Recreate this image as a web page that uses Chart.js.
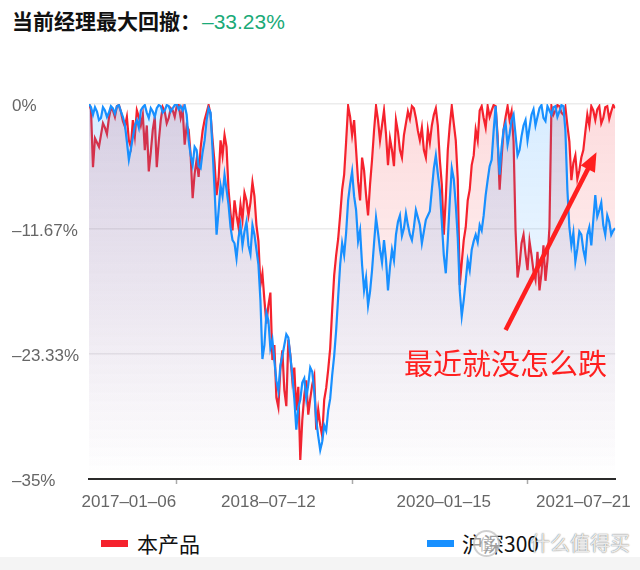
<!DOCTYPE html>
<html>
<head>
<meta charset="utf-8">
<script src="https://cdn.jsdelivr.net/npm/chart.js@4.4.1/dist/chart.umd.min.js"></script>
<style>
  html, body { margin: 0; padding: 0; background: #fff; }
  body { width: 640px; height: 570px; position: relative; overflow: hidden;
         font-family: "Liberation Sans", "Noto Sans CJK SC", sans-serif; }
  #title { position: absolute; left: 12px; top: 7px; font-size: 21px; line-height: 27px;
           font-family: "Noto Sans CJK SC", sans-serif; color: #111; white-space: nowrap; }
  #title b { font-weight: 700; }
  #title span { color: #1aaa78; font-family: "Liberation Sans", sans-serif; font-weight: 400; font-size: 21px; margin-left: 1px; }
  #wrap { position: absolute; left: 0; top: 0; width: 640px; height: 520px; }
  #note { position: absolute; left: 404px; top: 346px; font-size: 29px; line-height: 32px;
          color: #ff1f1f; font-family: "Noto Sans CJK SC", sans-serif; white-space: nowrap; }
  .leg { position: absolute; top: 531px; font-size: 21px; line-height: 24px; color: #111;
         font-family: "Noto Sans CJK SC", sans-serif; white-space: nowrap; }
  .leg i { position: absolute; top: 9px; width: 27px; height: 7px; }
  #wm { position: absolute; left: 530px; top: 530px; font-size: 20px; line-height: 26px;
        font-family: "Noto Sans CJK SC", sans-serif; color: rgba(255,255,255,0.85);
        text-shadow: 0 0 1px rgba(0,0,0,0.55), 0 0 2px rgba(0,0,0,0.2); white-space: nowrap; }
  #wmlogo { position: absolute; left: 473px; top: 530px; width: 23px; height: 23px; border-radius: 50%;
            border: 2px solid rgba(170,170,170,0.55); background: rgba(255,255,255,0.6);
            font-size: 15px; line-height: 23px; text-align: center; color: rgba(150,150,150,0.7);
            font-family: "Noto Sans CJK SC", sans-serif; }
  #band { position: absolute; left: 0; top: 557px; width: 640px; height: 13px; background: #f4f4f4; }
</style>
</head>
<body>
<div id="title"><b>当前经理最大回撤：</b><span>–33.23%</span></div>
<div id="wrap"><canvas id="c" width="640" height="520"></canvas></div>
<div id="note">最近就没怎么跌</div>
<div class="leg" style="left:101px;"><i style="left:0;background:#f5222d;"></i><span style="margin-left:36px;">本产品</span></div>
<div class="leg" style="left:427px;"><i style="left:0;background:#1890ff;"></i><span style="margin-left:35px;">沪深300</span></div>
<div id="wmlogo">值</div>
<div id="wm">什么值得买</div>
<div id="band"></div>
<script>
// ---- data (drawdown, %) ----
const seriesNames = ['本产品', '沪深300'];
const productDrawdown = [0, -0.5, -5.9, -3.2, -3.6, -4.0, -2.9, -1.8, -2.2, -2.8, -1.3, -0.4, -0.6, -1.2, -0.2, -0.1, -0.7, -1.6, -2.1, -1.2, -3.4, -4.0, -1.5, -3.0, -0.6, -1.2, -2.0, -1.0, -4.3, -2.0, -6.3, -4.5, -2.4, -1.2, -5.9, -3.5, -1.5, -0.3, -0.7, -1.8, -1.3, -0.4, -0.6, -1.2, -0.2, -0.1, -1.3, -0.5, -3.8, -2.0, -2.4, -4.8, -8.8, -6.5, -5.2, -6.8, -4.1, -2.5, -1.5, -0.8, -0.1, -1.0, -3.4, -5.5, -8.5, -7.0, -3.4, -4.8, -2.9, -4.0, -8.0, -10.2, -11.8, -9.0, -10.4, -11.5, -9.4, -10.8, -8.3, -9.0, -10.4, -9.2, -7.3, -8.6, -11.3, -12.8, -16.9, -15.8, -18.3, -20.5, -18.8, -17.6, -23.9, -22.5, -27.4, -28.3, -24.8, -23.0, -26.7, -28.2, -22.0, -23.4, -25.8, -24.6, -28.6, -26.4, -33.23, -29.5, -27.2, -25.8, -29.0, -27.5, -26.2, -25.4, -30.4, -28.5, -30.0, -31.0, -27.6, -26.5, -24.8, -22.8, -19.2, -16.0, -14.1, -12.6, -10.4, -8.0, -6.6, -3.5, -0.2, -1.2, -2.9, -1.5, -4.3, -7.2, -9.0, -5.0, -6.2, -8.5, -10.4, -7.5, -5.2, -2.5, -0.2, -1.5, -3.4, -2.0, -0.6, -2.8, -5.7, -3.2, -4.3, -5.8, -1.5, -2.6, -4.3, -5.0, -2.9, -1.8, -0.7, -1.4, -0.2, -0.4, -1.3, -2.5, -3.4, -2.2, -4.3, -5.0, -2.4, -3.6, -2.0, -1.0, -0.4, -2.0, -5.2, -7.5, -12.2, -8.8, -4.3, -2.0, -0.2, -1.8, -3.4, -7.0, -16.9, -14.8, -12.7, -11.5, -9.0, -8.0, -5.7, -4.8, -2.4, -3.4, -0.6, -0.2, -1.3, -2.2, -0.2, -1.2, -0.6, -0.1, -0.2, -3.0, -8.0, -5.0, -2.4, -1.2, -0.2, -1.5, -0.7, -3.5, -11.8, -16.2, -15.0, -13.0, -12.2, -14.0, -15.5, -12.8, -14.1, -15.6, -16.4, -13.8, -17.4, -15.8, -13.2, -16.5, -14.6, -11.5, -0.2, -1.0, -0.6, -0.1, -0.2, -0.8, -1.0, -0.3, -2.0, -3.5, -7.1, -5.5, -4.8, -7.0, -6.2, -5.0, -4.3, -2.6, -1.0, -2.0, -0.2, -0.6, -1.5, -0.5, -0.2, -1.8, -1.3, -0.3, -0.2, -1.4, -0.7, -0.1, -0.4];
const hs300Drawdown = [0, -0.3, -1.0, -0.3, -0.7, -1.5, -1.3, -0.3, -0.6, -1.2, -0.8, -0.2, -0.4, -0.9, -0.2, -0.1, -0.7, -1.2, -1.9, -3.5, -5.2, -4.2, -3.1, -2.0, -1.5, -2.2, -0.6, -0.3, -0.1, -0.8, -1.3, -0.4, -0.7, -1.2, -0.4, -0.1, -0.2, -0.8, -0.6, -0.1, -0.2, -0.7, -0.4, -0.1, 0, -0.5, -0.2, -0.6, -0.1, -1.0, -3.4, -4.8, -5.7, -4.0, -4.3, -5.8, -6.0, -4.5, -3.4, -1.5, -0.4, -0.8, -4.3, -8.0, -12.2, -10.0, -7.6, -8.6, -6.6, -8.0, -9.4, -11.5, -12.7, -13.0, -14.4, -12.5, -11.3, -13.2, -11.9, -11.0, -13.2, -14.0, -11.3, -12.2, -13.6, -15.0, -18.3, -23.8, -22.5, -19.5, -20.2, -22.8, -22.0, -24.0, -25.8, -26.8, -24.4, -23.5, -22.5, -21.5, -21.8, -23.5, -25.3, -27.5, -30.4, -28.3, -27.6, -26.0, -25.6, -27.5, -26.2, -24.6, -25.0, -26.8, -29.5, -31.0, -32.3, -31.5, -30.0, -30.5, -28.6, -27.5, -25.3, -23.5, -21.1, -18.0, -15.0, -13.0, -14.1, -12.0, -9.0, -7.5, -6.3, -8.6, -9.9, -12.8, -11.8, -15.0, -17.4, -16.2, -18.8, -17.5, -15.5, -13.0, -10.6, -12.0, -13.6, -14.8, -12.7, -14.5, -17.4, -15.2, -13.6, -14.6, -12.2, -11.0, -10.4, -12.3, -11.6, -10.2, -11.3, -12.2, -12.7, -11.5, -9.9, -10.6, -11.3, -13.0, -11.9, -10.8, -10.4, -10.0, -8.0, -6.0, -4.8, -6.5, -8.0, -11.0, -14.1, -15.8, -12.7, -9.0, -6.0, -7.0, -9.4, -12.5, -17.4, -19.8, -18.3, -16.5, -14.6, -15.5, -13.6, -12.8, -12.2, -12.9, -11.3, -11.8, -10.4, -8.5, -7.1, -5.8, -5.2, -2.5, -0.2, -3.5, -6.6, -4.0, -2.4, -1.8, -3.8, -2.8, -1.5, -1.0, -2.9, -4.8, -4.3, -3.0, -2.0, -1.5, -3.4, -2.2, -1.0, -0.5, -2.0, -1.2, -0.4, -0.1, -1.3, -1.6, -0.2, -0.6, -1.0, -0.3, -0.2, -1.2, -0.7, -0.1, -0.2, -2.5, -8.0, -11.5, -13.2, -12.0, -14.7, -13.5, -11.9, -12.2, -13.6, -14.5, -12.2, -11.5, -13.2, -10.8, -8.5, -10.5, -9.9, -9.2, -11.3, -12.2, -10.4, -11.0, -12.2, -11.8, -11.6];

const xLabelIdx = [20, 90, 178, 248];
const xLabels = ['2017–01–06', '2018–07–12', '2020–01–15', '2021–07–21'];
const xTickMarkIdx = [44, 132, 220];
const yTickValues = [0, -11.67, -23.33, -35];
const yTickLabels = ['0%', '–11.67%', '–23.33%', '–35%'];
// annotation arrow in data coordinates [index, value]
const arrowFrom = [209, -21.1];
const arrowTo = [254.6, -4.5];

const N = Math.max(productDrawdown.length, hs300Drawdown.length);
const xAllTicks = xLabelIdx.concat(xTickMarkIdx).sort((a, b) => a - b);

function grad(ctx, rgb, a0, a1) {
  const chart = ctx.chart;
  const area = chart.chartArea;
  if (!area) return `rgba(${rgb},${a0})`;
  const g = chart.ctx.createLinearGradient(0, area.top, 0, area.bottom);
  g.addColorStop(0, `rgba(${rgb},${a0})`);
  g.addColorStop(1, `rgba(${rgb},${a1})`);
  return g;
}

const arrowPlugin = {
  id: 'arrow',
  afterDatasetsDraw(chart) {
    const xs = chart.scales.x, ys = chart.scales.y, c = chart.ctx;
    const x1 = xs.getPixelForValue(arrowFrom[0]), y1 = ys.getPixelForValue(arrowFrom[1]);
    const x2 = xs.getPixelForValue(arrowTo[0]), y2 = ys.getPixelForValue(arrowTo[1]);
    const ang = Math.atan2(y2 - y1, x2 - x1);
    const headLen = 19, headW = 8;
    const bx = x2 - headLen * Math.cos(ang), by = y2 - headLen * Math.sin(ang);
    c.save();
    c.strokeStyle = '#ff1f1f';
    c.fillStyle = '#ff1f1f';
    c.lineWidth = 4.5;
    c.lineCap = 'butt';
    c.beginPath();
    c.moveTo(x1, y1);
    c.lineTo(bx + 2 * Math.cos(ang), by + 2 * Math.sin(ang));
    c.stroke();
    c.beginPath();
    c.moveTo(x2, y2);
    c.lineTo(bx + headW * Math.sin(ang), by - headW * Math.cos(ang));
    c.lineTo(bx - headW * Math.sin(ang), by + headW * Math.cos(ang));
    c.closePath();
    c.fill();
    c.restore();
  }
};

new Chart(document.getElementById('c'), {
  type: 'line',
  data: {
    datasets: [
      {
        label: seriesNames[1],
        data: hs300Drawdown.map((v, i) => ({ x: i, y: v })),
        borderColor: '#1890ff',
        borderWidth: 2.2,
        pointRadius: 0,
        tension: 0,
        fill: 'start',
        backgroundColor: ctx => grad(ctx, '24,144,255', 0.17, 0.0),
        order: 0
      },
      {
        label: seriesNames[0],
        data: productDrawdown.map((v, i) => ({ x: i, y: v })),
        borderColor: '#f5222d',
        borderWidth: 2.2,
        pointRadius: 0,
        tension: 0,
        fill: 'start',
        backgroundColor: ctx => grad(ctx, '240,34,45', 0.16, 0.0),
        order: 1
      }
    ]
  },
  options: {
    responsive: false,
    animation: false,
    devicePixelRatio: 1,
    layout: { padding: { left: 12, right: 23, top: 104, bottom: 0 } },
    plugins: {
      legend: { display: false },
      tooltip: { enabled: false },
      filler: { drawTime: 'beforeDatasetDraw' }
    },
    scales: {
      x: {
        type: 'linear',
        min: 0,
        max: N - 1,
        afterBuildTicks: s => { s.ticks = xAllTicks.map(v => ({ value: v })); },
        afterFit: s => { s.height = 41; },
        ticks: {
          autoSkip: false,
          maxRotation: 0,
          minRotation: 0,
          padding: 8,
          color: '#666',
          font: { size: 17, family: '"Liberation Sans", sans-serif' },
          callback: v => { const k = xLabelIdx.indexOf(v); return k >= 0 ? xLabels[k] : ''; }
        },
        grid: {
          display: true,
          drawOnChartArea: false,
          drawTicks: true,
          tickLength: 5,
          tickWidth: 1.5,
          tickColor: ctx => (ctx.tick && xTickMarkIdx.includes(ctx.tick.value)) ? '#aaa' : 'rgba(0,0,0,0)'
        },
        border: { display: true, color: '#2a2a2a', width: 2 }
      },
      y: {
        type: 'linear',
        min: -35,
        max: 0,
        afterBuildTicks: s => { s.ticks = yTickValues.map(v => ({ value: v })); },
        afterFit: s => { s.width = 77; },
        ticks: {
          crossAlign: 'far',
          padding: 0,
          labelOffset: 2,
          color: '#666',
          font: { size: 17, family: '"Liberation Sans", sans-serif' },
          callback: v => { const k = yTickValues.indexOf(v); return k >= 0 ? yTickLabels[k] : ''; }
        },
        grid: {
          drawTicks: false,
          lineWidth: 1.5,
          color: ctx => (ctx.tick && ctx.tick.value === -35) ? 'rgba(0,0,0,0)' : '#ececec'
        },
        border: { display: false }
      }
    }
  },
  plugins: [arrowPlugin]
});
</script>
</body>
</html>
